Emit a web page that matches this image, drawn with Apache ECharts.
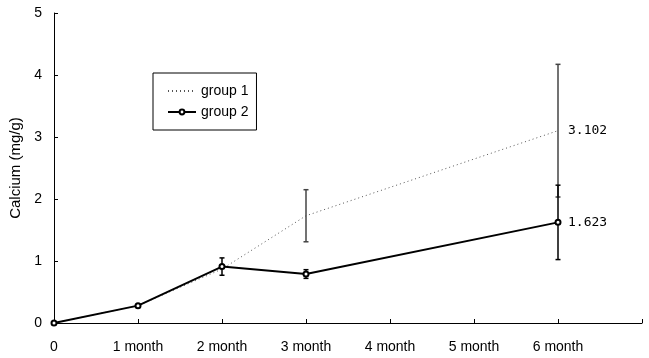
<!DOCTYPE html>
<html><head><meta charset="utf-8">
<script src="https://cdn.jsdelivr.net/npm/echarts@6/dist/echarts.min.js"></script>
<style>html,body{margin:0;padding:0;background:#fff}#c{width:649px;height:358px}</style>
</head><body><div id="c"></div>
<script>
var categories = ['0','1 month','2 month','3 month','4 month','5 month','6 month',''];
var group1 = [0, 0.28, 0.87, 1.73, null, null, 3.102];
var group2 = [0, 0.28, 0.91, 0.79, null, null, 1.623];
var group1Err = [null, null, null, 0.42, null, null, 1.07];
var group2Err = [null, null, 0.14, 0.07, null, null, 0.6];
var yTicks = [0,1,2,3,4,5];

function errData(vals, errs){
  var out = [];
  for (var i=0;i<vals.length;i++){
    if (errs[i] != null && vals[i] != null) out.push([i, vals[i]-errs[i], vals[i]+errs[i]]);
  }
  return out;
}
function errSeries(vals, errs, color, width){
  return {
    type:'custom', silent:true, z:3,
    data: errData(vals, errs),
    renderItem: function(params, api){
      var lo = api.coord([api.value(0), api.value(1)]);
      var hi = api.coord([api.value(0), api.value(2)]);
      var w = 2.5;
      var st = {stroke: color, lineWidth: width};
      return {type:'group', children:[
        {type:'line', shape:{x1:lo[0],y1:lo[1],x2:hi[0],y2:hi[1]}, style:st},
        {type:'line', shape:{x1:lo[0]-w,y1:lo[1],x2:lo[0]+w,y2:lo[1]}, style:st},
        {type:'line', shape:{x1:hi[0]-w,y1:hi[1],x2:hi[0]+w,y2:hi[1]}, style:st}
      ]};
    }
  };
}
function endMark(vals){
  var i = vals.length-1;
  return {
    symbol:'circle', symbolSize:0, silent:true, animation:false,
    label:{show:true, position:'right', distance:10, fontFamily:'DejaVu Sans Mono', fontSize:13, color:'#000',
           formatter: function(p){ return String(p.value); }},
    data:[{coord:[i, vals[i]], value: vals[i]}]
  };
}

var chart = echarts.init(document.getElementById('c'), null, {renderer:'canvas'});
chart.setOption({
  animation:false,
  backgroundColor:'#fff',
  grid:{left:54, right:7, top:13, bottom:35},
  legend:{
    left:153, top:73, orient:'vertical',
    borderColor:'#000', borderWidth:1,
    padding:[11,8,11,14], itemGap:7, itemWidth:28, itemHeight:6,
    textStyle:{fontFamily:'Liberation Sans', fontSize:14, color:'#000'},
    data:[
      {name:'group 1', itemStyle:{color:'rgba(0,0,0,0)', borderColor:'rgba(0,0,0,0)', borderWidth:0}},
      {name:'group 2'}
    ]
  },
  xAxis:{
    type:'category', data:categories, boundaryGap:false,
    axisLine:{lineStyle:{color:'#000', width:1}},
    axisTick:{show:true, inside:true, length:4, lineStyle:{color:'#000'}},
    axisLabel:{fontFamily:'Liberation Sans', fontSize:14, color:'#000', margin:17, interval:0},
    splitLine:{show:false}
  },
  yAxis:{
    type:'value', min:yTicks[0], max:yTicks[yTicks.length-1], interval:1,
    name:'Calcium (mg/g)', nameLocation:'middle', nameGap:31,
    nameTextStyle:{fontFamily:'Liberation Sans', fontSize:15, color:'#000'},
    axisLine:{show:true, lineStyle:{color:'#000', width:1}},
    axisTick:{show:true, inside:true, length:4, lineStyle:{color:'#000'}},
    axisLabel:{fontFamily:'Liberation Sans', fontSize:14, color:'#000', margin:12},
    splitLine:{show:false}
  },
  series:[
    {name:'group 1', type:'line', data:group1, connectNulls:true,
     symbol:'none', showSymbol:false,
     lineStyle:{color:'#555', width:1, type:[1,3]},
     itemStyle:{color:'#555'},
     markPoint: endMark(group1), z:2},
    {name:'group 2', type:'line', data:group2, connectNulls:true,
     symbol:'emptyCircle', symbolSize:5, showSymbol:true,
     lineStyle:{color:'#000', width:2},
     itemStyle:{color:'#000', borderWidth:1},
     markPoint: endMark(group2), z:4},
    errSeries(group1, group1Err, '#444', 1.5),
    errSeries(group2, group2Err, '#000', 1.5)
  ]
});
</script></body></html>
